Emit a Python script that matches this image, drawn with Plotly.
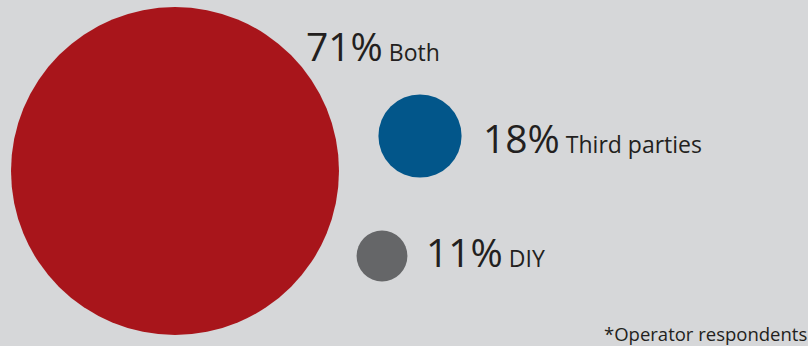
import plotly.graph_objects as go

categories = ["Both", "Third parties", "DIY"]
values = [71, 18, 11]
colors = ["#a8151b", "#02568a", "#656668"]
footnote = "*Operator respondents"

# layout constants (pixel-like coordinates on a 808x346 canvas)
W, H = 808, 346
centers_x = [175, 420, 382]
centers_y = [171, 136, 256]
px_per_unit = 164 / 71  # radius proportional to value
label_x = [304, 481, 424]
label_y = [64, 156, 270]  # baselines
BG = "#d6d7d9"
TXT = "#231f20"
FONT = "Open Sans"

fig = go.Figure()
fig.add_trace(go.Scatter(
    x=centers_x, y=centers_y, mode="markers",
    marker=dict(size=[2 * v * px_per_unit for v in values], color=colors,
                line=dict(width=0), opacity=1),
    hoverinfo="skip", showlegend=False,
))

for cat, v, lx, ly in zip(categories, values, label_x, label_y):
    fig.add_annotation(
        x=lx, y=ly, xref="x", yref="y", xanchor="left", yanchor="bottom",
        text=f"<span style='font-size:39px'>{v}%</span> {cat}",
        showarrow=False, font=dict(family=FONT, size=23, color=TXT),
        yshift=-10,
    )

fig.add_annotation(
    x=1, y=0, xref="paper", yref="paper", xanchor="right", yanchor="bottom",
    text=footnote, showarrow=False, borderpad=0, xshift=0, yshift=-1,
    font=dict(family=FONT, size=18.5, color=TXT),
)

fig.update_layout(
    width=W, height=H, margin=dict(l=0, r=0, t=0, b=0),
    paper_bgcolor=BG, plot_bgcolor=BG,
    xaxis=dict(range=[0, W], visible=False, fixedrange=True),
    yaxis=dict(range=[H, 0], visible=False, fixedrange=True),
)
fig.write_html("out.html", config={"displayModeBar": False},
               post_script="document.body.style.margin='0';")
